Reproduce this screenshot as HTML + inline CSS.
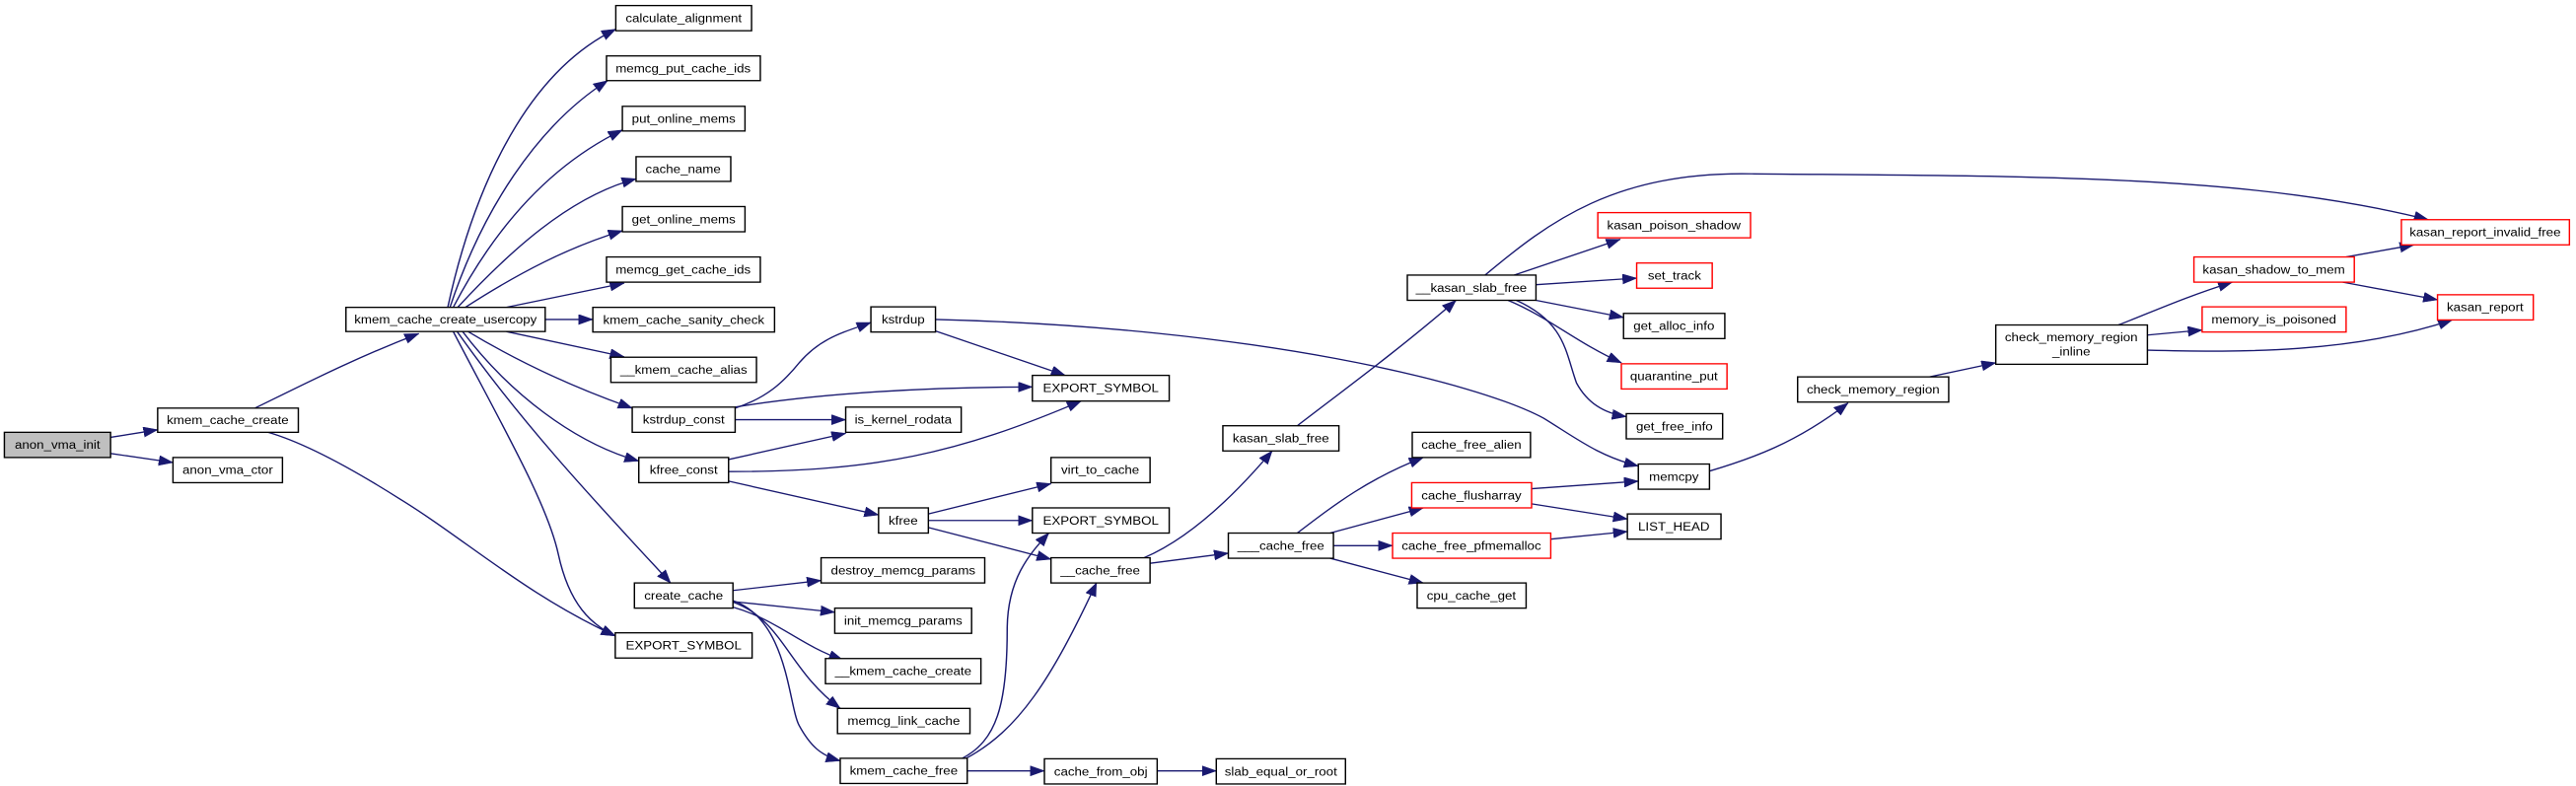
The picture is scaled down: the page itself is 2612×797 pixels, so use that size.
<!DOCTYPE html>
<html><head><meta charset="utf-8"><style>
html,body{margin:0;padding:0;background:#fff;}
svg{display:block}
text{font-family:"Liberation Sans",Arial,sans-serif;font-size:24px;fill:#000;text-anchor:middle}
.e{fill:none;stroke:#191970;stroke-width:2.6}
.n{fill:#fff;stroke:#000;stroke-width:2.6}
.r{fill:#fff;stroke:#ff0000;stroke-width:2.6}
</style></head><body>
<svg width="2612" height="797" viewBox="0 0 4706 1560" preserveAspectRatio="none" xmlns="http://www.w3.org/2000/svg">
<defs><marker id="a" markerUnits="userSpaceOnUse" markerWidth="30" markerHeight="24" refX="26" refY="10" orient="auto"><path d="M0,0 L26,10 L0,20 Z" fill="#191970" stroke="#191970"/></marker></defs>
<g marker-end="url(#a)">
<path class="e" d="M202,868 L288,853"/>
<path class="e" d="M202,900 L316,918"/>
<path class="e" d="M466,810 C560,760 650,710 765,662"/>
<path class="e" d="M490,858 C560,880 650,935 730,990 C850,1070 960,1180 1124,1262"/>
<path class="e" d="M818,610 C860,400 950,150 1125,58"/>
<path class="e" d="M822,610 C880,420 980,250 1110,160"/>
<path class="e" d="M828,610 C900,460 1000,330 1137,258"/>
<path class="e" d="M836,610 C930,500 1040,390 1162,355"/>
<path class="e" d="M850,610 C950,540 1040,490 1137,458"/>
<path class="e" d="M925,610 L1140,562"/>
<path class="e" d="M996,634 L1083,634"/>
<path class="e" d="M925,658 L1140,708"/>
<path class="e" d="M855,658 C950,720 1050,770 1155,810"/>
<path class="e" d="M845,658 C930,780 1050,880 1167,915"/>
<path class="e" d="M835,658 C960,850 1100,1010 1225,1157"/>
<path class="e" d="M828,658 C920,850 1000,1000 1020,1100 C1040,1200 1080,1240 1124,1262"/>
<path class="e" d="M1343,810 C1400,790 1430,760 1460,720 C1500,670 1540,660 1591,640"/>
<path class="e" d="M1343,808 C1500,780 1700,768 1886,768"/>
<path class="e" d="M1343,833 L1545,833"/>
<path class="e" d="M1331,912 L1545,860"/>
<path class="e" d="M1331,936 C1600,936 1750,900 1975,796"/>
<path class="e" d="M1331,955 L1605,1022"/>
<path class="e" d="M1709,657 L1946,745"/>
<path class="e" d="M1709,634 C2300,650 2700,760 2820,830 C2880,870 2920,905 2993,925"/>
<path class="e" d="M1696,1020 L1920,960"/>
<path class="e" d="M1696,1033 L1886,1033"/>
<path class="e" d="M1696,1047 L1920,1110"/>
<path class="e" d="M1339,1172 L1500,1152"/>
<path class="e" d="M1339,1194 L1525,1215"/>
<path class="e" d="M1339,1205 C1420,1230 1460,1280 1540,1310"/>
<path class="e" d="M1339,1195 C1430,1230 1440,1330 1535,1406"/>
<path class="e" d="M1339,1192 C1440,1230 1440,1400 1460,1440 C1480,1480 1500,1500 1535,1510"/>
<path class="e" d="M1758,1505 C1820,1470 1840,1400 1840,1250 C1840,1150 1880,1100 1916,1058"/>
<path class="e" d="M1765,1505 C1860,1450 1920,1350 2003,1157"/>
<path class="e" d="M1767,1530 L1908,1530"/>
<path class="e" d="M2114,1530 L2222,1530"/>
<path class="e" d="M2090,1107 C2170,1070 2250,990 2324,895"/>
<path class="e" d="M2101,1118 L2244,1098"/>
<path class="e" d="M2370,845 C2460,770 2560,690 2660,596"/>
<path class="e" d="M2370,1058 C2440,1000 2500,950 2600,908"/>
<path class="e" d="M2430,1058 L2600,1008"/>
<path class="e" d="M2436,1083 L2544,1083"/>
<path class="e" d="M2430,1108 L2600,1157"/>
<path class="e" d="M2798,970 L2993,955"/>
<path class="e" d="M2798,1000 L2973,1030"/>
<path class="e" d="M2833,1070 L2973,1055"/>
<path class="e" d="M2713,546 C2830,440 2950,340 3200,345 C3700,350 4100,345 4436,436"/>
<path class="e" d="M2766,546 L2960,475"/>
<path class="e" d="M2806,565 L2990,552"/>
<path class="e" d="M2806,596 L2966,630"/>
<path class="e" d="M2755,596 C2830,630 2880,680 2962,720"/>
<path class="e" d="M2770,596 C2860,640 2860,700 2880,760 C2900,800 2930,820 2971,827"/>
<path class="e" d="M3123,935 C3200,910 3280,880 3376,800"/>
<path class="e" d="M3525,748 L3646,720"/>
<path class="e" d="M3870,645 C3930,620 3990,590 4078,560"/>
<path class="e" d="M3923,665 L4023,655"/>
<path class="e" d="M3923,695 C4100,700 4300,700 4480,635"/>
<path class="e" d="M4286,510 L4410,486"/>
<path class="e" d="M4280,560 L4453,595"/>
</g>
<g>
<rect x="8" y="858" width="194" height="50" fill="#bfbfbf" stroke="#000" stroke-width="2.6"/><text x="105" y="891">anon_vma_init</text>
<rect class="n" x="288" y="810" width="257" height="48"/><text x="416" y="842">kmem_cache_create</text>
<rect class="n" x="316" y="908" width="200" height="50"/><text x="416" y="941">anon_vma_ctor</text>
<rect class="n" x="632" y="610" width="364" height="48"/><text x="814" y="642">kmem_cache_create_usercopy</text>
<rect class="n" x="1125" y="11" width="248" height="50"/><text x="1249" y="44">calculate_alignment</text>
<rect class="n" x="1108" y="111" width="281" height="49"/><text x="1248" y="144">memcg_put_cache_ids</text>
<rect class="n" x="1137" y="211" width="224" height="49"/><text x="1249" y="244">put_online_mems</text>
<rect class="n" x="1162" y="311" width="173" height="49"/><text x="1248" y="344">cache_name</text>
<rect class="n" x="1137" y="410" width="224" height="50"/><text x="1249" y="443">get_online_mems</text>
<rect class="n" x="1108" y="510" width="281" height="50"/><text x="1248" y="543">memcg_get_cache_ids</text>
<rect class="n" x="1083" y="610" width="332" height="49"/><text x="1249" y="643">kmem_cache_sanity_check</text>
<rect class="n" x="1116" y="709" width="266" height="50"/><text x="1249" y="742">__kmem_cache_alias</text>
<rect class="n" x="1155" y="808" width="188" height="50"/><text x="1249" y="841">kstrdup_const</text>
<rect class="n" x="1167" y="908" width="164" height="50"/><text x="1249" y="941">kfree_const</text>
<rect class="n" x="1159" y="1157" width="180" height="50"/><text x="1249" y="1190">create_cache</text>
<rect class="n" x="1124" y="1256" width="250" height="50"/><text x="1249" y="1289">EXPORT_SYMBOL</text>
<rect class="n" x="1591" y="609" width="118" height="50"/><text x="1650" y="642">kstrdup</text>
<rect class="n" x="1886" y="745" width="250" height="51"/><text x="2011" y="778">EXPORT_SYMBOL</text>
<rect class="n" x="1545" y="808" width="211" height="50"/><text x="1650" y="841">is_kernel_rodata</text>
<rect class="n" x="1920" y="908" width="181" height="50"/><text x="2010" y="941">virt_to_cache</text>
<rect class="n" x="1605" y="1008" width="91" height="50"/><text x="1650" y="1041">kfree</text>
<rect class="n" x="1886" y="1008" width="250" height="50"/><text x="2011" y="1041">EXPORT_SYMBOL</text>
<rect class="n" x="1920" y="1107" width="181" height="50"/><text x="2010" y="1140">__cache_free</text>
<rect class="n" x="1500" y="1107" width="299" height="50"/><text x="1650" y="1140">destroy_memcg_params</text>
<rect class="n" x="1525" y="1207" width="250" height="50"/><text x="1650" y="1240">init_memcg_params</text>
<rect class="n" x="1508" y="1307" width="284" height="50"/><text x="1650" y="1340">__kmem_cache_create</text>
<rect class="n" x="1530" y="1406" width="242" height="50"/><text x="1651" y="1439">memcg_link_cache</text>
<rect class="n" x="1535" y="1505" width="232" height="50"/><text x="1651" y="1538">kmem_cache_free</text>
<rect class="n" x="1908" y="1506" width="206" height="50"/><text x="2011" y="1539">cache_from_obj</text>
<rect class="n" x="2222" y="1506" width="236" height="50"/><text x="2340" y="1539">slab_equal_or_root</text>
<rect class="n" x="2234" y="845" width="212" height="50"/><text x="2340" y="878">kasan_slab_free</text>
<rect class="n" x="2571" y="546" width="235" height="50"/><text x="2688" y="579">__kasan_slab_free</text>
<rect class="n" x="2244" y="1058" width="192" height="50"/><text x="2340" y="1091">___cache_free</text>
<rect class="n" x="2580" y="858" width="216" height="50"/><text x="2688" y="891">cache_free_alien</text>
<rect class="r" x="2579" y="958" width="219" height="50"/><text x="2688" y="991">cache_flusharray</text>
<rect class="r" x="2544" y="1058" width="289" height="50"/><text x="2688" y="1091">cache_free_pfmemalloc</text>
<rect class="n" x="2589" y="1157" width="199" height="50"/><text x="2688" y="1190">cpu_cache_get</text>
<rect class="r" x="2919" y="422" width="279" height="50"/><text x="3058" y="455">kasan_poison_shadow</text>
<rect class="r" x="2990" y="522" width="138" height="50"/><text x="3059" y="555">set_track</text>
<rect class="n" x="2966" y="622" width="185" height="50"/><text x="3058" y="655">get_alloc_info</text>
<rect class="r" x="2962" y="722" width="193" height="50"/><text x="3058" y="755">quarantine_put</text>
<rect class="n" x="2971" y="821" width="176" height="50"/><text x="3059" y="854">get_free_info</text>
<rect class="n" x="2993" y="921" width="130" height="50"/><text x="3058" y="954">memcpy</text>
<rect class="n" x="2973" y="1020" width="171" height="50"/><text x="3058" y="1053">LIST_HEAD</text>
<rect class="n" x="3284" y="748" width="276" height="50"/><text x="3422" y="781">check_memory_region</text>
<rect class="n" x="3646" y="645" width="277" height="78"/><text x="3784" y="677">check_memory_region</text><text x="3784" y="706">_inline</text>
<rect class="r" x="4008" y="510" width="293" height="50"/><text x="4154" y="543">kasan_shadow_to_mem</text>
<rect class="r" x="4023" y="609" width="263" height="50"/><text x="4154" y="642">memory_is_poisoned</text>
<rect class="r" x="4387" y="436" width="307" height="50"/><text x="4540" y="469">kasan_report_invalid_free</text>
<rect class="r" x="4453" y="585" width="175" height="50"/><text x="4540" y="618">kasan_report</text>
</g>
</svg>
</body></html>
